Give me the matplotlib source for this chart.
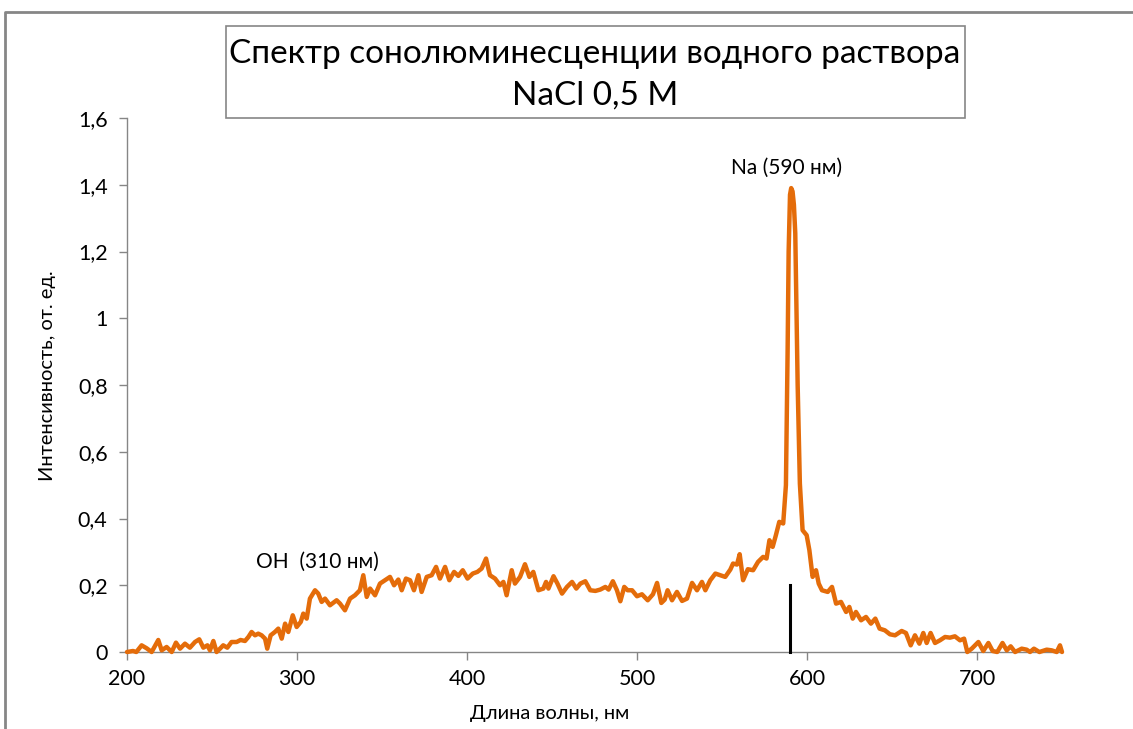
import matplotlib.pyplot as plt
from matplotlib.lines import Line2D
from matplotlib.patches import Rectangle

# spectrum
wavelength = [
    200, 203.5, 205.5, 208.6, 211.6, 214.5, 218.4, 220.4, 223.3, 226.3,
    228.8, 231.2, 234.1, 237, 240, 242.5, 244.9, 247.3, 248.8, 250.8,
    252.7, 254.7, 256.6, 259, 261.5, 264.5, 266.8, 269.4, 271.4, 273.3,
    275.3, 277.2, 279.2, 281.2, 282.5, 284.5, 287, 289, 291, 293,
    294.9, 297.5, 299.8, 302.2, 303.7, 305.7, 307.6, 310.6, 312.5, 314.5,
    316.5, 319.4, 323.3, 325.3, 328.2, 331.2, 334.1, 337, 339, 341,
    343, 345.9, 348.8, 351.8, 354.7, 357.1, 359.6, 361.6, 364.1, 366.5,
    368.8, 371.4, 373.3, 376.3, 379.2, 381.8, 384.1, 387.1, 389.6, 392.4,
    394.9, 397.5, 400.3, 403.4, 406.1, 408.6, 411.2, 413.5, 416.5, 419.4,
    421.4, 423.3, 426.3, 428.2, 431.2, 434.1, 436.7, 439, 442, 444.9,
    446.5, 447.9, 450.9, 453.2, 455.9, 458.8, 461.8, 464.3, 466.7, 469.6,
    472.5, 475.5, 478.4, 481.4, 483.3, 485.8, 488.2, 490.2, 492.5, 494.5,
    497.1, 500, 502.9, 506.3, 509.4, 511.8, 514.3, 516.3, 518, 520.6,
    523.5, 526.5, 529.4, 532.4, 535.3, 538.2, 540.2, 543.1, 546.1, 549,
    551.9, 554.9, 556.5, 558.8, 560.4, 562.4, 565.2, 568.3, 571.2, 574.2,
    576.2, 577.9, 579.8, 581.7, 583.7, 586, 587.6, 588.6, 589.2, 590,
    590.7, 591.5, 592.3, 593.1, 594.5, 595.8, 597.4, 599.8, 601.4, 603.3,
    605.3, 606.9, 608.8, 612.2, 614.7, 617.1, 620, 623, 624.9, 626.9,
    628.8, 631.8, 634.7, 637.6, 640.2, 642.7, 645.8, 648.8, 651.8, 655.7,
    658.2, 661, 663.5, 666.1, 668.4, 670.4, 672.7, 675.3, 678.2, 681.2,
    684.1, 687, 690, 692.4, 694.3, 696.9, 700.8, 703.7, 706.7, 709.2,
    711.9, 715, 717.5, 719.8, 722.4, 726.3, 729.2, 731.2, 733.5, 736.7,
    741, 743.9, 746.9, 748.8, 750,
]
intensity = [
    0, 0.003, 0, 0.02, 0.011, 0, 0.036, 0.005, 0.015, 0,
    0.028, 0.01, 0.025, 0.013, 0.03, 0.038, 0.013, 0.02, 0.005, 0.033,
    0, 0.01, 0.02, 0.013, 0.03, 0.03, 0.036, 0.033, 0.045, 0.06,
    0.05, 0.055, 0.05, 0.04, 0.01, 0.05, 0.06, 0.07, 0.04, 0.085,
    0.06, 0.11, 0.075, 0.09, 0.115, 0.1, 0.16, 0.185, 0.175, 0.15,
    0.16, 0.14, 0.155, 0.145, 0.125, 0.16, 0.17, 0.185, 0.23, 0.165,
    0.19, 0.17, 0.205, 0.215, 0.225, 0.2, 0.217, 0.185, 0.22, 0.215,
    0.185, 0.23, 0.18, 0.225, 0.23, 0.255, 0.22, 0.255, 0.215, 0.24,
    0.228, 0.245, 0.22, 0.235, 0.24, 0.25, 0.28, 0.23, 0.22, 0.2,
    0.21, 0.17, 0.245, 0.205, 0.225, 0.263, 0.225, 0.24, 0.185, 0.19,
    0.21, 0.19, 0.227, 0.205, 0.175, 0.195, 0.21, 0.19, 0.205, 0.212,
    0.185, 0.183, 0.187, 0.195, 0.187, 0.212, 0.185, 0.152, 0.195, 0.185,
    0.185, 0.167, 0.173, 0.155, 0.173, 0.207, 0.147, 0.157, 0.185, 0.155,
    0.18, 0.153, 0.16, 0.207, 0.185, 0.21, 0.185, 0.215, 0.235, 0.23,
    0.225, 0.247, 0.265, 0.262, 0.293, 0.215, 0.248, 0.245, 0.27, 0.285,
    0.28, 0.335, 0.315, 0.35, 0.39, 0.385, 0.5, 0.905, 1.2, 1.37,
    1.39, 1.38, 1.34, 1.255, 0.8, 0.505, 0.365, 0.35, 0.305, 0.225,
    0.245, 0.205, 0.185, 0.18, 0.195, 0.145, 0.15, 0.12, 0.135, 0.1,
    0.12, 0.095, 0.105, 0.085, 0.1, 0.07, 0.065, 0.053, 0.05, 0.063,
    0.057, 0.02, 0.05, 0.025, 0.057, 0.027, 0.057, 0.027, 0.035, 0.045,
    0.043, 0.047, 0.035, 0.04, 0, 0.01, 0.03, 0.003, 0.027, 0.003,
    0, 0.027, 0.005, 0.017, 0, 0.01, 0.007, 0, 0.01, 0,
    0.007, 0.005, 0, 0.02, 0,
]

x_ticks = [200, 300, 400, 500, 600, 700]
y_ticks = [0, 0.2, 0.4, 0.6, 0.8, 1.0, 1.2, 1.4, 1.6]
y_tick_labels = ["0", "0,2", "0,4", "0,6", "0,8", "1", "1,2", "1,4", "1,6"]

na_line = 590      # nm
na_line_height = 0.2

title_1 = "Спектр сонолюминесценции водного раствора"
title_2 = "NaCl 0,5 M"
x_label = "Длина волны, нм"
y_label = "Интенсивность, от. ед."

plt.rcParams['font.family'] = ['Lato', 'DejaVu Sans']

W, H = 1133, 729
fig = plt.figure(figsize=(W / 100, H / 100), dpi=100)
ax = fig.add_axes([127 / W, 77 / H, 935 / W, 534 / H])

orange = "#E46C0A"
grey = "#868686"

ax.plot(wavelength, intensity, color=orange, lw=3.2, clip_on=False,
        solid_joinstyle="round", solid_capstyle="round", zorder=3)
ax.plot([na_line, na_line], [0, na_line_height], color="black", lw=2.2,
        clip_on=False, zorder=4)

ax.set_xlim(200, 750)
ax.set_ylim(0, 1.6)
ax.set_xticks(x_ticks)
ax.set_xticklabels([str(t) for t in x_ticks])
ax.set_yticks(y_ticks)
ax.set_yticklabels(y_tick_labels)

for side in ["top", "right"]:
    ax.spines[side].set_visible(False)
for side in ["left", "bottom"]:
    ax.spines[side].set_color(grey)
    ax.spines[side].set_linewidth(1.0)
ax.tick_params(axis="both", direction="out", color=grey, width=1.0,
               length=6, labelsize=15.5, labelcolor="black")
ax.tick_params(axis="x", pad=6)
ax.tick_params(axis="y", pad=8)

# axis titles placed as in the source (centred on its plot area)
fig.text(550 / W, 1 - 713 / H, x_label, ha="center", va="center", fontsize=14.5)
fig.text(48 / W, 1 - 376 / H, y_label, ha="center", va="center",
         rotation=90, fontsize=14.5)

ax.text(588, 1.42, "Na (590 нм)", ha="center", va="bottom", fontsize=15)
ax.text(312, 0.24, "OH  (310 нм)", ha="center", va="bottom", fontsize=15)

# title box
fig.patches.append(Rectangle((226 / W, 1 - 118 / H), (965 - 226) / W, 92 / H,
                             transform=fig.transFigure, fill=False,
                             edgecolor=grey, lw=1.2))
fig.text(595 / W, 1 - 54 / H, title_1, ha="center", va="center", fontsize=24)
fig.text(595 / W, 1 - 96 / H, title_2, ha="center", va="center", fontsize=24)

# chart area border (cropped)
fig.lines.append(Line2D([5 / W, 5 / W, 1.0], [0, 1 - 12 / H, 1 - 12 / H],
                        transform=fig.transFigure, color=grey, lw=2))

fig.savefig("out.png", dpi=100)
